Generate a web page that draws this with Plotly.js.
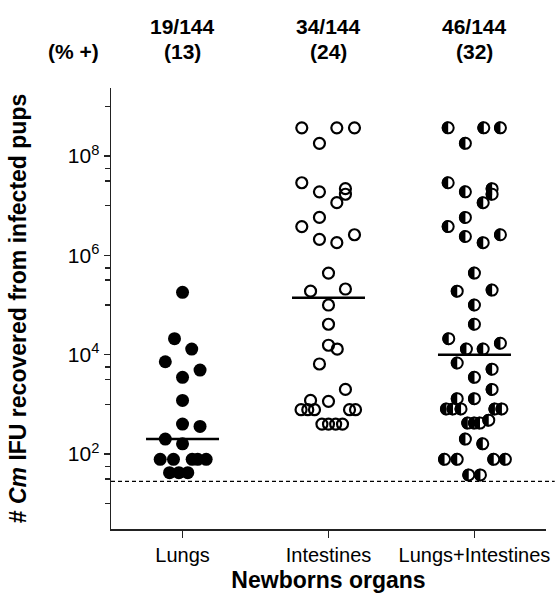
<!DOCTYPE html>
<html><head><meta charset="utf-8">
<script src="https://cdn.plot.ly/plotly-3.0.1.min.js"></script>
<style>html,body{margin:0;padding:0;background:#fff}</style>
</head><body>
<div id="chart" style="width:558px;height:593px"></div>
<script>
// ---- data ----
const categories = ['Lungs', 'Intestines', 'Lungs+Intestines'];
const positivePups = [19, 34, 46];
const totalPups = 144;
const percentPositive = [13, 24, 32];

const lungsIFU = [1.8e5, 2.1e4, 1.3e4, 7.2e3, 4.9e3, 3.5e3, 1.2e3, 400, 360, 200, 160,
  78, 78, 78, 78, 78, 42, 42, 42];
const lungsJitter = [0, -0.055, 0.063, -0.118, 0.12, 0, 0, 0, 0.12, -0.118, 0,
  -0.153, -0.062, 0.066, 0.104, 0.162, -0.089, -0.025, 0.036];

const intestinesIFU = [3.7e8, 3.7e8, 3.7e8, 1.8e8, 2.9e7, 1.9e7, 2.2e7, 1.7e7, 1.15e7, 5.8e6,
  3.8e6, 2.1e6, 1.8e6, 2.6e6, 4.4e5, 1.9e5, 2.1e5, 1.0e5, 4.1e4, 1.55e4,
  1.3e4, 6.5e3, 2.0e3, 1.2e3, 1.15e3, 780, 780, 780, 780, 780,
  400, 400, 400, 400];
const intestinesJitter = [-0.183, 0.057, 0.178, -0.062, -0.183, -0.062, 0.116, 0.116, 0.057, -0.062,
  -0.183, -0.062, 0.057, 0.178, 0, -0.123, 0.116, 0, 0, 0,
  0.06, -0.062, 0.116, -0.123, 0, -0.188, -0.142, -0.096, 0.144, 0.185,
  -0.045, 0, 0.049, 0.096];

const bothIFU = [3.7e8, 3.7e8, 3.7e8, 1.8e8, 2.9e7, 1.9e7, 2.2e7, 1.7e7, 1.15e7, 5.8e6,
  3.8e6, 2.4e6, 1.8e6, 2.6e6, 4.4e5, 1.9e5, 2.0e5, 1.0e5, 4.1e4, 2.1e4,
  1.3e4, 1.3e4, 1.7e4, 6.8e3, 5.1e3, 3.5e3, 2.0e3, 1.3e3, 1.3e3, 810,
  810, 810, 810, 810, 420, 420, 420, 480, 200, 160,
  78, 78, 78, 78, 38, 38];
const bothJitter = [-0.18, 0.064, 0.178, -0.062, -0.18, -0.062, 0.121, 0.121, 0.06, -0.062,
  -0.18, -0.062, 0.06, 0.178, 0, -0.118, 0.121, 0, 0, -0.176,
  -0.055, 0.06, 0.178, -0.118, 0.121, 0, 0.121, 0, -0.118, -0.192,
  -0.147, -0.092, 0.14, 0.188, -0.046, 0, 0.038, 0.098, -0.062, 0.057,
  -0.205, -0.118, 0.132, 0.212, -0.039, 0.041];

const medians = [200, 1.4e5, 1.0e4];
const detectionLimit = 28;

const yTickVals = [1e2, 1e4, 1e6, 1e8];
const yTickText = ['10<sup>2</sup>', '10<sup>4</sup>', '10<sup>6</sup>', '10<sup>8</sup>'];
const yMinorExponents = [1, 1.5, 1.75, 3, 3.5, 3.75, 5, 5.5, 5.75, 7, 7.5, 7.75, 9];

// ---- build ----
const R = 6.5, K = 0.5523 * R;
const halfPath = `M0,${R} C${-K},${R} ${-R},${K} ${-R},0 C${-R},${-K} ${-K},${-R} 0,${-R} Z`;

const traces = [
  {
    type: 'scatter', mode: 'markers', hoverinfo: 'skip',
    x: lungsJitter.map(j => 0 + j), y: lungsIFU,
    marker: { symbol: 'circle', size: 13, color: '#000', line: { width: 0 } }
  },
  {
    type: 'scatter', mode: 'markers', hoverinfo: 'skip',
    x: intestinesJitter.map(j => 1 + j), y: intestinesIFU,
    marker: { symbol: 'circle-open', size: 11, color: '#000', line: { width: 2.2, color: '#000' } }
  },
  {
    type: 'scatter', mode: 'markers', hoverinfo: 'skip',
    x: bothJitter.map(j => 2 + j), y: bothIFU,
    marker: { symbol: 'circle', size: 11, color: '#fff', line: { width: 2, color: '#000' } }
  }
];
medians.forEach((m, i) => {
  traces.push({
    type: 'scatter', mode: 'lines', hoverinfo: 'skip',
    x: [i - 0.25, i + 0.25], y: [m, m],
    line: { color: '#000', width: 2.6 }
  });
});

const shapes = [{
  type: 'line', xref: 'paper', yref: 'y', x0: 0, x1: 1.02, y0: detectionLimit, y1: detectionLimit,
  line: { color: '#000', width: 1.2, dash: '4px,3px' }
}];
bothIFU.forEach((v, k) => {
  shapes.push({
    type: 'path', xref: 'x', yref: 'y', xsizemode: 'pixel', ysizemode: 'pixel',
    xanchor: 2 + bothJitter[k], yanchor: v, path: halfPath,
    fillcolor: '#000', line: { width: 0 }, layer: 'above'
  });
});

const annFont = { size: 21, weight: 'bold', color: '#000' };
const annotations = [];
categories.forEach((c, i) => {
  annotations.push({ xref: 'x', yref: 'paper', x: i, y: 1.14, text: `${positivePups[i]}/${totalPups}`,
    showarrow: false, font: annFont, xanchor: 'center', yanchor: 'middle' });
  annotations.push({ xref: 'x', yref: 'paper', x: i, y: 1.082, text: `(${percentPositive[i]})`,
    showarrow: false, font: annFont, xanchor: 'center', yanchor: 'middle' });
});
annotations.push({ xref: 'paper', yref: 'paper', x: -0.087, y: 1.082, text: '(% +)',
  showarrow: false, font: annFont, xanchor: 'center', yanchor: 'middle' });

const layout = {
  width: 558, height: 593,
  margin: { l: 111, r: 12, t: 88, b: 64 },
  paper_bgcolor: '#fff', plot_bgcolor: '#fff',
  showlegend: false,
  font: { family: '"Liberation Sans", Arial, sans-serif', color: '#000' },
  xaxis: {
    range: [-0.49, 2.49], tickmode: 'array', tickvals: [0, 1, 2], ticktext: categories,
    showline: true, linecolor: '#222', linewidth: 1.5, ticks: 'outside', ticklen: 7,
    tickwidth: 1.5, tickcolor: '#222', showgrid: false, zeroline: false,
    tickfont: { size: 20 },
    title: { text: 'Newborns organs', font: { size: 23, weight: 'bold' }, standoff: 10 }
  },
  yaxis: {
    type: 'log', range: [0.49, 9.37], tickmode: 'array', tickvals: yTickVals, ticktext: yTickText,
    showline: true, linecolor: '#222', linewidth: 1.5, ticks: 'outside', ticklen: 6,
    tickwidth: 1.5, tickcolor: '#222', showgrid: false, zeroline: false,
    tickfont: { size: 21 },
    minor: { tickmode: 'array', tickvals: yMinorExponents.map(e => Math.pow(10, e)),
      ticks: 'outside', ticklen: 5, tickwidth: 1.5, tickcolor: '#222', showgrid: false },
    title: { text: '# <i>Cm</i> IFU recovered from infected pups', font: { size: 23, weight: 'bold' }, standoff: 34 }
  },
  shapes: shapes,
  annotations: annotations
};

Plotly.newPlot('chart', traces, layout, { displayModeBar: false, staticPlot: true });
</script>
</body></html>
